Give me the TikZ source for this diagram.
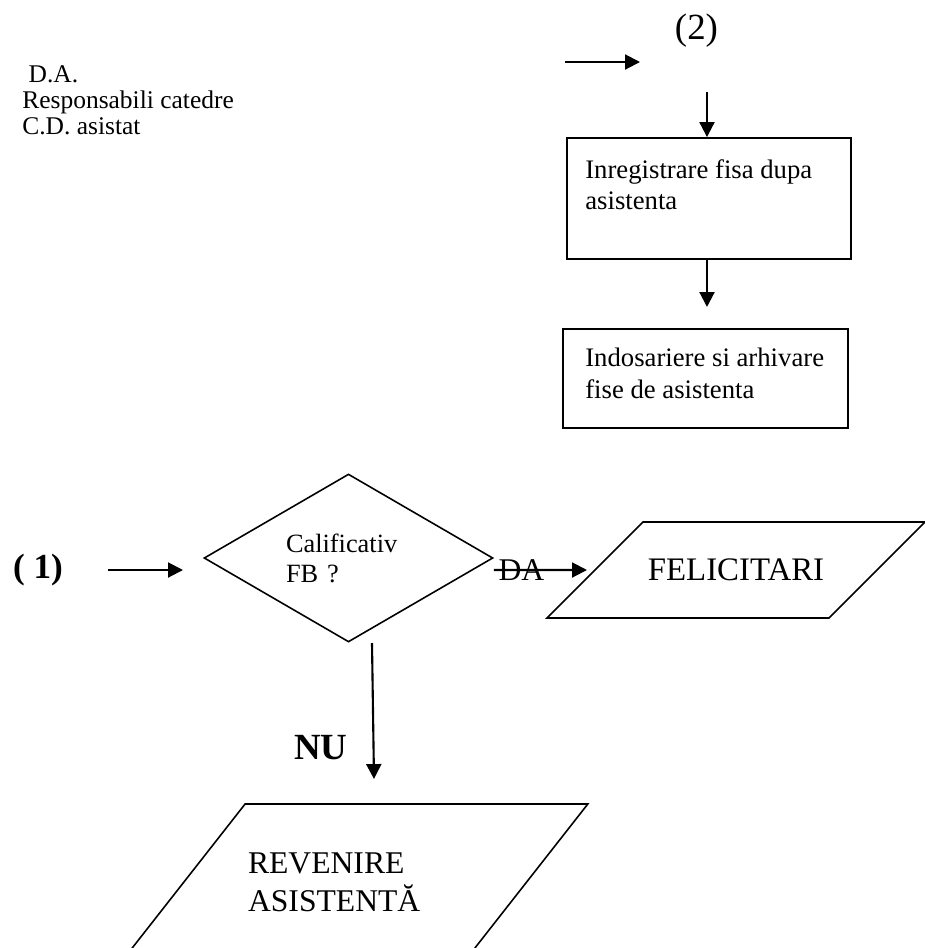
\documentclass[tikz,border=0pt]{standalone}
\usepackage{fontspec}
\setmainfont{Liberation Serif}
\usetikzlibrary{shapes.geometric,arrows.meta}
\colorlet{flowink}{black}

\tikzset{
  flowarrow/.style={draw=flowink, line width=1.2pt,
    -{Triangle[length=8.5pt,width=8.5pt]}},
  flowbox/.style={rectangle, draw=flowink, line width=1.1pt, inner sep=0pt},
  boxtext/.style={anchor=north west, inner sep=0pt, align=left,
    font=\fontsize{15.2}{17.8}\selectfont},
  flowshape/.style={draw=flowink, line width=0.9pt, inner sep=0pt},
  bigtext/.style={inner sep=0pt, font=\fontsize{18}{21.6}\selectfont},
}

\begin{document}
\begin{tikzpicture}[x=0.02cm, y=-0.02cm]
  % page frame in reference pixels (925 x 948); the lower parallelogram
  % runs past the bottom edge, so the frame also clips it
  \clip (0,0) rectangle (925,948);

  % participants, top left
  \node[anchor=north west, inner sep=0pt, align=left,
        font=\fontsize{14.5}{14.8}\selectfont] (actors) at (22,65)
    {\hspace*{0.25em}D.A.\\Responsabili catedre\\C.D. asistat};

  % entry (2) -- registering and filing the sheets
  \node[bigtext, font=\fontsize{21}{24}\selectfont] (entry2) at (696.5,31) {(2)};
  \coordinate (in2s) at (565,62);
  \coordinate (in2e) at (640,62);
  \draw[flowarrow] (in2s) -- (in2e);

  \node[flowbox, minimum width=5.68cm, minimum height=2.42cm] (reg) at (709,198.5) {};
  \node[boxtext] (regtext) at (585,159) {Inregistrare fisa dupa\\asistenta};
  \coordinate (down2) at (707,92);
  \draw[flowarrow] (down2) -- (down2 |- reg.north);

  \node[flowbox, minimum width=5.7cm, minimum height=1.98cm] (arch) at (705.5,378.5) {};
  \node[boxtext] (archtext) at (585,348) {Indosariere si arhivare\\fise de asistenta};
  \coordinate (mid2) at (707,307);
  \draw[flowarrow] (reg.south -| mid2) -- (mid2);

  % entry (1) -- decision on the grade
  \node[bigtext, font=\fontsize{20}{24}\selectfont\bfseries] (entry1) at (38,570) {( 1)};
  \coordinate (in1s) at (108,570);
  \coordinate (in1e) at (183,570);
  \draw[flowarrow] (in1s) -- (in1e);

  % text width pins the flush-left lines at the reference's left edge
  \node[flowshape, diamond, shape aspect=1.72, minimum width=5.78cm,
        minimum height=3.36cm, text width=2.5cm, align=left,
        font=\fontsize{15}{17}\selectfont] (calif) at (348.5,558)
    {Calificativ\\FB ?};

  % yes branch: the DA label sits right on top of the arrow line.
  % Parallelogram sizes come from text width (body) and inner ysep
  % (height), so the slanted sides keep their true angle.
  \node[flowshape, trapezium, trapezium left angle=45, trapezium right angle=135,
        text width=3.72cm, align=center, inner xsep=0pt, inner ysep=0.74cm,
        font=\fontsize{18.7}{22}\selectfont] (felic) at (736,570) {FELICITARI};
  \coordinate (dae) at (587,570);
  \draw[flowarrow] ([yshift=-0.24cm]calif.east) -- (dae);
  \node[bigtext] (da) at (521.5,570) {DA};

  % no branch
  \coordinate (nus) at (372,643);
  \coordinate (nue) at (374,779);
  \draw[flowarrow] (nus) -- (nue);
  \node[bigtext, font=\fontsize{21}{24}\selectfont\bfseries] (nu) at (321,748) {NU};

  \node[flowshape, trapezium, trapezium left angle=51.9, trapezium right angle=128.1,
        text width=4.29cm, align=left, inner xsep=0.06cm, inner ysep=0.97cm,
        font=\fontsize{18}{21.6}\selectfont] (rev) at (355.3,882)
    {REVENIRE\\ASISTENTĂ};
\end{tikzpicture}
\end{document}
